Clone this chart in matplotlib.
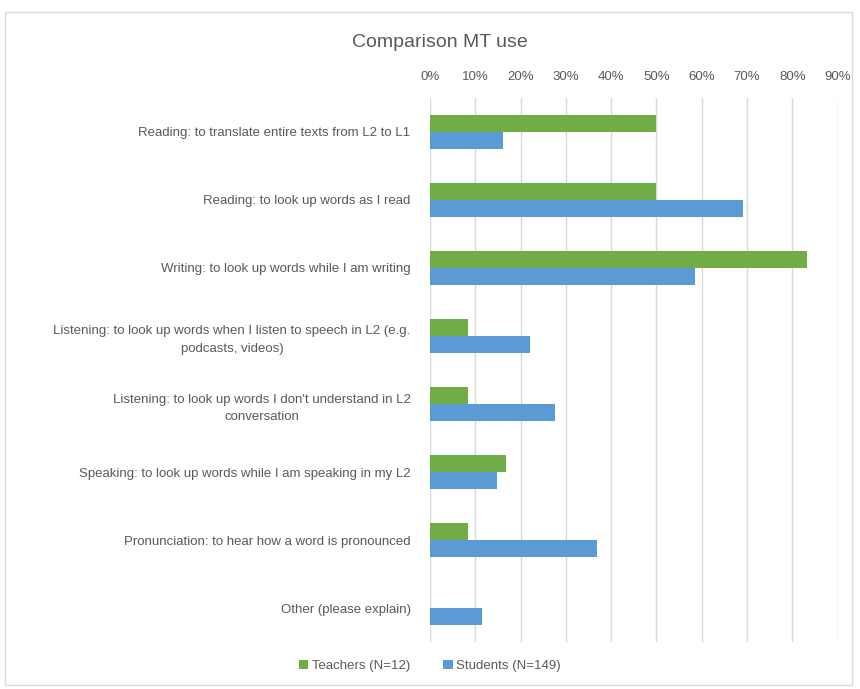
import numpy as np
import matplotlib.pyplot as plt
from matplotlib.patches import Rectangle
from matplotlib.ticker import PercentFormatter

categories = [
    "Reading: to translate entire texts from L2 to L1",
    "Reading: to look up words as I read",
    "Writing: to look up words while I am writing",
    "Listening: to look up words when I listen to speech in L2 (e.g.\npodcasts, videos)",
    "Listening: to look up words I don't understand in L2\nconversation",
    "Speaking: to look up words while I am speaking in my L2",
    "Pronunciation: to hear how a word is pronounced",
    "Other (please explain)",
]
teachers = [50.0, 50.0, 83.3, 8.3, 8.3, 16.7, 8.3, 0.0]
students = [16.1, 69.1, 58.4, 22.1, 27.5, 14.8, 36.9, 11.4]
ticks = np.arange(0, 100, 10)

plt.rcParams['font.family'] = ['Liberation Sans', 'DejaVu Sans']
grey = '#595959'

fig = plt.figure(figsize=(8.6, 6.89), dpi=100)
ax = fig.add_axes([0.5, 0.068, 0.474, 0.79])

y = np.arange(len(categories))
h = 0.25
ax.barh(y - h / 2, teachers, height=h, color='#70ad47', label='Teachers (N=12)', zorder=3)
ax.barh(y + h / 2, students, height=h, color='#5b9bd5', label='Students (N=149)', zorder=3)

ax.set_ylim(len(categories) - 0.5, -0.5)
ax.set_xlim(0, 90)
ax.set_xticks(ticks)
ax.xaxis.set_major_formatter(PercentFormatter(decimals=0))
ax.xaxis.tick_top()
ax.set_yticks(y)
ax.set_yticklabels(categories, multialignment='center', linespacing=1.6)
ax.tick_params(length=0, colors=grey, labelsize=9.5)
ax.tick_params(axis='y', pad=14)
ax.tick_params(axis='x', pad=11)
ax.grid(axis='x', color='#d9d9d9', linewidth=1, zorder=0)
for s in ax.spines.values():
    s.set_visible(False)

fig.text(0.512, 0.938, 'Comparison MT use', ha='center', va='center', fontsize=14, color=grey)
fig.legend(loc='center', bbox_to_anchor=(0.5, 0.033), ncol=2, frameon=False,
           fontsize=9.5, labelcolor=grey, handlelength=0.7, handleheight=0.7,
           handletextpad=0.3, columnspacing=2.5)

fig.patches.append(Rectangle((0.006, 0.006), 0.985, 0.977, transform=fig.transFigure,
                             fill=False, edgecolor='#d9d9d9', linewidth=1))

fig.savefig('out.png', dpi=100)
